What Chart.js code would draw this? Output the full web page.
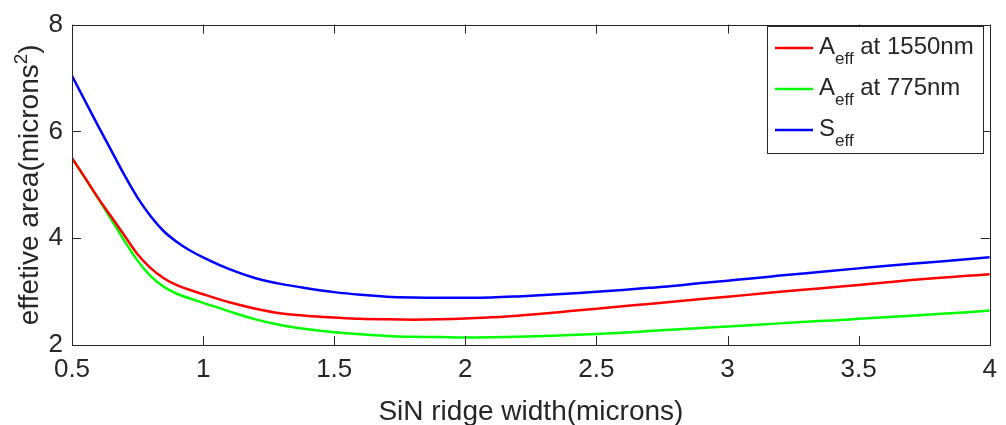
<!DOCTYPE html>
<html>
<head>
<meta charset="utf-8">
<script src="https://cdn.jsdelivr.net/npm/chart.js@4.4.1/dist/chart.umd.min.js"></script>
<style>
  html, body { margin: 0; padding: 0; background: #fff; }
  canvas { display: block; }
</style>
</head>
<body>
<canvas id="chart" width="1006" height="425"></canvas>
<script>
// SiN ridge width (microns); denser where the curves bend
const widths = [0.5, 0.55, 0.6, 0.65, 0.7, 0.75, 0.8, 0.85, 0.9, 0.95, 1.0, 1.1, 1.2, 1.3, 1.4, 1.5, 1.6, 1.7, 1.8, 1.9,
                2.0, 2.1, 2.2, 2.3, 2.4, 2.5, 2.6, 2.7, 2.8, 2.9, 3.0, 3.1, 3.2, 3.3, 3.4, 3.5, 3.6, 3.7, 3.8, 3.9, 4.0];

// effective areas (microns^2)
const aeff1550 = [5.50, 5.13, 4.75, 4.40, 4.05, 3.70, 3.44, 3.25, 3.12, 3.03, 2.95, 2.80, 2.68, 2.59, 2.545, 2.515, 2.49, 2.48, 2.475, 2.48,
                  2.495, 2.52, 2.55, 2.59, 2.635, 2.68, 2.725, 2.77, 2.815, 2.86, 2.905, 2.95, 2.995, 3.04, 3.08, 3.125, 3.17, 3.215, 3.255, 3.29, 3.325];
const aeff775 = [5.50, 5.12, 4.74, 4.35, 3.95, 3.58, 3.29, 3.09, 2.96, 2.87, 2.79, 2.63, 2.48, 2.37, 2.295, 2.24, 2.20, 2.17, 2.155, 2.15,
                 2.14, 2.145, 2.155, 2.17, 2.185, 2.205, 2.23, 2.26, 2.29, 2.32, 2.345, 2.375, 2.405, 2.435, 2.46, 2.49, 2.52, 2.55, 2.58, 2.61, 2.645];
const seff = [7.04, 6.57, 6.10, 5.64, 5.18, 4.76, 4.41, 4.13, 3.93, 3.77, 3.64, 3.42, 3.25, 3.14, 3.06, 2.99, 2.94, 2.905, 2.89, 2.885,
              2.885, 2.89, 2.91, 2.935, 2.965, 2.995, 3.03, 3.07, 3.11, 3.16, 3.205, 3.25, 3.30, 3.345, 3.39, 3.435, 3.48, 3.52, 3.56, 3.60, 3.645];

const seriesNames = ['A_eff at 1550nm', 'A_eff at 775nm', 'S_eff'];
const seriesColors = ['#ff0000', '#00ff00', '#0000ff'];

const FONT = '"Liberation Sans", Arial, Helvetica, sans-serif';
const INK = '#262626';

const toPoints = arr => arr.map((v, i) => ({ x: widths[i], y: v }));

// box, inward ticks, axis titles and legend drawn MATLAB-style
const matlabLook = {
    id: 'matlabLook',
    afterDraw(chart) {
        const ctx = chart.ctx;
        const a = chart.chartArea;
        const xs = chart.scales.x, ys = chart.scales.y;
        ctx.save();
        ctx.strokeStyle = INK;
        ctx.lineWidth = 1;
        ctx.beginPath();
        xs.ticks.forEach(t => {
            const px = Math.round(xs.getPixelForValue(t.value)) + 0.5;
            ctx.moveTo(px, a.bottom); ctx.lineTo(px, a.bottom - 9);
            ctx.moveTo(px, a.top); ctx.lineTo(px, a.top + 9);
        });
        ys.ticks.forEach(t => {
            const py = Math.round(ys.getPixelForValue(t.value)) + 0.5;
            ctx.moveTo(a.left, py); ctx.lineTo(a.left + 9, py);
            ctx.moveTo(a.right, py); ctx.lineTo(a.right - 9, py);
        });
        ctx.stroke();
        ctx.strokeRect(Math.round(a.left) + 0.5, Math.round(a.top) + 0.5,
                       Math.round(a.right - a.left), Math.round(a.bottom - a.top));

        // x title
        ctx.fillStyle = INK;
        ctx.font = '28px ' + FONT;
        ctx.textAlign = 'center';
        ctx.textBaseline = 'alphabetic';
        ctx.fillText('SiN ridge width(microns)', (a.left + a.right) / 2, 420);

        // y title with superscript
        ctx.save();
        ctx.translate(38, (a.top + a.bottom) / 2);
        ctx.rotate(-Math.PI / 2);
        const p1 = 'effetive area(microns', sup = '2', p2 = ')';
        ctx.font = '28px ' + FONT;
        const w1 = ctx.measureText(p1).width, w3 = ctx.measureText(p2).width;
        ctx.font = '19px ' + FONT;
        const w2 = ctx.measureText(sup).width;
        let x = -(w1 + w2 + w3) / 2;
        ctx.textAlign = 'left';
        ctx.font = '28px ' + FONT;
        ctx.fillText(p1, x, 0); x += w1;
        ctx.font = '19px ' + FONT;
        ctx.fillText(sup, x, -11); x += w2;
        ctx.font = '28px ' + FONT;
        ctx.fillText(p2, x, 0);
        ctx.restore();

        // legend
        const L = 767, T = 26, R = 983, B = 153;
        ctx.fillStyle = '#fff';
        ctx.fillRect(L, T, R - L, B - T);
        ctx.strokeRect(L + 0.5, T + 0.5, R - L, B - T);
        chart.data.datasets.forEach((ds, i) => {
            const ly = 48 + i * 41;
            ctx.strokeStyle = ds.borderColor;
            ctx.lineWidth = 2.5;
            ctx.beginPath();
            ctx.moveTo(775, ly); ctx.lineTo(813, ly);
            ctx.stroke();
            const [main, rest] = ds.label.split('_');
            const sub = rest.split(' ')[0];
            const tail = rest.slice(sub.length);
            ctx.fillStyle = INK;
            ctx.textAlign = 'left';
            let tx = 819;
            ctx.font = '24px ' + FONT;
            ctx.fillText(main, tx, ly + 6);
            tx += ctx.measureText(main).width;
            ctx.font = '17px ' + FONT;
            ctx.fillText(sub, tx, ly + 16);
            tx += ctx.measureText(sub).width;
            ctx.font = '24px ' + FONT;
            ctx.fillText(tail, tx, ly + 6);
        });
        ctx.restore();
    }
};

new Chart(document.getElementById('chart'), {
    type: 'line',
    data: {
        datasets: [aeff1550, aeff775, seff].map((arr, i) => ({
            label: seriesNames[i],
            data: toPoints(arr),
            borderColor: seriesColors[i],
            backgroundColor: seriesColors[i],
            borderWidth: 2.5,
            pointRadius: 0,
            cubicInterpolationMode: 'monotone',
            fill: false
        }))
    },
    options: {
        responsive: false,
        devicePixelRatio: 1,
        animation: false,
        layout: { padding: { left: 0, top: 13, right: 11, bottom: 0 } },
        plugins: { legend: { display: false }, tooltip: { enabled: false } },
        scales: {
            x: {
                type: 'linear', min: 0.5, max: 4,
                ticks: {
                    stepSize: 0.5, color: INK, font: { family: FONT, size: 26 }, padding: 9, maxRotation: 0,
                    callback: v => String(Math.round(v * 10) / 10)
                },
                grid: { display: false, drawTicks: false },
                border: { display: false },
                afterFit: s => { s.height = 80; }
            },
            y: {
                min: 2, max: 8,
                ticks: { stepSize: 2, color: INK, font: { family: FONT, size: 26 }, padding: 9 },
                grid: { display: false, drawTicks: false },
                border: { display: false },
                afterFit: s => { s.width = 72; }
            }
        }
    },
    plugins: [matlabLook]
});
</script>
</body>
</html>
